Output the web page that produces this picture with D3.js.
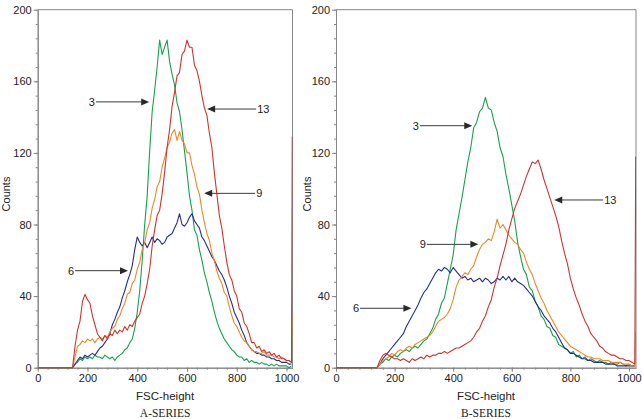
<!DOCTYPE html>
<html><head><meta charset="utf-8">
<script src="https://cdn.jsdelivr.net/npm/d3@7"></script>
<style>body{margin:0;background:#fff}svg{display:block}</style>
</head><body><svg id="c" width="642" height="419"></svg>
<script>
// ---- data: counts per FSC channel bin, bins start at 140, step 10 ----
const binStart = 140, binStep = 10, spikeChannel = 1023;
const xTicks = [0, 200, 400, 600, 800, 1000];
const yTicks = [0, 40, 80, 120, 160, 200];

const a3 = [
 0,2,3,5,4,6,5,6,5,7,
 6,6,5,7,6,5,6,4,6,7,
 8,10,11,14,16,22,31,43,60,80,
 96,121,143,155,168,183,175,179,183,171,
 164,158,148,143,133,121,109,96,88,77,
 74,66,60,53,48,42,37,31,26,22,
 19,16,14,12,10,9,7,6,6,4,
 5,3,4,3,3,2,3,2,2,1,
 2,1,2,1,1,1,1,0,1];
const a6 = [
 0,2,4,6,5,7,6,7,8,7,
 9,11,12,14,16,19,24,27,31,34,
 39,43,48,52,57,66,73,70,68,70,
 67,70,73,70,72,71,69,70,73,74,
 75,78,81,86,80,79,81,84,86,82,
 80,78,73,71,68,65,62,60,57,54,
 52,49,45,40,36,31,28,25,21,18,
 14,12,10,9,8,8,7,7,6,6,
 5,5,4,4,3,3,3,2,2];
const a9 = [
 0,6,12,13,15,14,16,15,16,14,
 16,17,16,18,17,20,22,23,27,29,
 33,36,41,42,47,49,55,59,66,70,
 77,81,89,94,101,104,112,117,123,126,
 131,133,127,132,127,125,120,120,113,108,
 101,97,88,81,75,71,64,60,54,50,
 47,42,40,34,29,25,23,20,17,15,
 14,12,10,9,9,8,8,9,7,7,
 7,6,6,5,6,5,4,4,3];
const a13 = [
 0,12,21,26,37,41,38,36,29,24,
 19,17,15,18,16,19,18,21,19,21,
 20,23,21,24,23,26,28,30,36,40,
 47,55,68,77,85,88,97,109,123,133,
 146,154,163,165,175,177,183,179,179,169,
 166,160,152,145,141,131,123,109,97,85,
 78,68,59,52,49,43,40,33,31,25,
 23,19,14,14,11,12,9,10,8,9,
 7,8,6,7,5,5,4,4,3];
const a9Spike = 30, a13Spike = 129;

const b3 = [
 0,2,3,5,4,6,7,6,8,9,
 10,9,11,12,11,13,15,16,19,22,
 27,30,36,39,47,55,63,77,86,95,
 105,115,123,134,137,143,145,151,145,144,
 137,132,123,118,108,100,91,82,70,62,
 55,52,45,43,37,34,29,27,23,22,
 18,17,13,12,11,10,8,9,6,7,
 5,6,4,5,4,3,4,3,3,2,
 3,2,2,3,2,1,2,1,1];
const b6 = [
 0,2,5,7,9,11,13,15,17,19,
 23,26,29,32,35,39,42,44,47,50,
 53,55,54,56,55,53,56,54,52,50,
 51,49,50,48,49,50,48,50,49,47,
 48,50,49,51,49,51,48,50,48,47,
 46,44,42,40,37,34,32,29,27,25,
 22,20,17,14,11,10,8,8,7,6,
 5,5,4,4,3,3,3,3,2,2,
 2,2,1,1,1,1,1,1,1];
const b9 = [
 0,2,4,5,6,8,7,9,10,9,
 11,12,11,13,14,15,16,17,18,20,
 23,26,27,28,30,33,38,45,49,51,
 53,52,55,57,62,66,69,70,72,71,
 76,83,78,80,77,74,72,70,69,66,
 64,59,55,52,47,43,39,36,32,29,
 26,23,20,18,16,14,12,11,10,9,
 8,7,6,6,5,5,5,4,4,4,
 3,3,3,3,2,2,2,1,1];
const b13 = [
 0,4,7,8,7,6,5,5,4,5,
 4,3,5,4,5,6,5,7,6,7,
 7,8,8,9,8,9,10,11,11,12,
 13,14,15,17,20,22,26,29,34,38,
 45,50,57,63,69,77,83,89,93,97,
 102,107,111,115,114,116,111,105,100,95,
 90,85,79,71,64,58,50,44,39,35,
 30,26,23,19,17,15,12,11,9,8,
 7,7,6,5,5,4,4,3,2];
const b9Spike = 20, b13Spike = 118;

// ---- layout ----
const colors = {g:"#12a34c", b:"#262c8e", o:"#f28626", r:"#d3322b"};
const yRange = [367.7, 9.7];
const panels = [
  {x0:37.7, x1:292.5, countsX:10, title:"A-SERIES",
   series:[[a3,null,colors.g],[a6,null,colors.b],[a9,a9Spike,colors.o],[a13,a13Spike,colors.r]],
   notes:[["3",234,448,148.5],["13",878,681,144.5],["9",874,669,97.4],["6",150,363,54.2]]},
  {x0:336, x1:636, countsX:311, title:"B-SERIES",
   series:[[b3,null,colors.g],[b6,null,colors.b],[b9,b9Spike,colors.o],[b13,b13Spike,colors.r]],
   notes:[["3",286,465,135.2],["13",912,745,93.7],["9",310,486,68.9],["6",82,257.5,33.2]]}
];

const svg = d3.select("#c");
const axisCol = "#858585", textCol = "#222";
const sans = "Liberation Sans, Arial, sans-serif";

function pts(vals, spike){
  const p = [[0,0]];
  vals.forEach((v,i)=>p.push([binStart+i*binStep, v]));
  if (spike != null) p.push([spikeChannel, spike]);
  return p;
}

panels.forEach(P=>{
  const x = d3.scaleLinear().domain([0,1024]).range([P.x0, P.x1]);
  const y = d3.scaleLinear().domain([0,200]).range(yRange);
  const g = svg.append("g");

  g.append("path").attr("d", `M${P.x0},${yRange[1]}H${P.x1}V${yRange[0]}`)
    .attr("fill","none").attr("stroke",axisCol).attr("stroke-width",1);

  const yMinor = d3.axisLeft(y).tickValues(d3.range(0,201,8)).tickSize(2).tickFormat("").tickSizeOuter(0);
  const xMinor = d3.axisBottom(x).tickValues(d3.range(0,1024,40)).tickSize(2).tickFormat("").tickSizeOuter(0);
  g.append("g").attr("transform",`translate(${P.x0},0)`).call(yMinor);
  g.append("g").attr("transform",`translate(0,${yRange[0]})`).call(xMinor);

  const fmt = d3.format("d");
  const yAx = d3.axisLeft(y).tickValues(yTicks).tickFormat(fmt).tickSize(4).tickPadding(2).tickSizeOuter(0);
  const xAx = d3.axisBottom(x).tickValues(xTicks).tickFormat(fmt).tickSize(4).tickPadding(3).tickSizeOuter(0);
  g.append("g").attr("class","ax").attr("transform",`translate(${P.x0},0)`).call(yAx);
  g.append("g").attr("class","ax").attr("transform",`translate(0,${yRange[0]})`).call(xAx);

  g.selectAll(".domain, .tick line").attr("stroke",axisCol);
  g.selectAll(".ax text").attr("font-family",sans).attr("font-size",11).attr("fill",textCol);

  const line = d3.line().x(d=>x(d[0])).y(d=>y(d[1]));
  const clipId = "clip"+P.title;
  svg.append("clipPath").attr("id",clipId).append("rect")
    .attr("x",P.x0).attr("y",yRange[1]).attr("width",P.x1-P.x0).attr("height",yRange[0]-yRange[1]+1);
  const cg = g.append("g").attr("clip-path",`url(#${clipId})`);
  P.series.forEach(([vals,spike,col])=>{
    cg.append("path").attr("d", line(pts(vals,spike)))
      .attr("fill","none").attr("stroke",col).attr("stroke-width",1.1)
      .attr("stroke-linejoin","round");
  });

  P.notes.forEach(([lab,c0,c1,cy])=>{
    const xs = x(c0), xt = x(c1), yy = y(cy);
    const dir = xt > xs ? 1 : -1;
    g.append("line").attr("x1",xs).attr("x2",xt-dir*7).attr("y1",yy).attr("y2",yy)
      .attr("stroke","#3a3a3a").attr("stroke-width",1);
    g.append("path").attr("d",`M${xt},${yy}L${xt-dir*8},${yy-3.5}L${xt-dir*8},${yy+3.5}Z`)
      .attr("fill","#2a2a2a");
    g.append("text").attr("x", xs - dir*1).attr("y",yy).attr("dy","0.36em")
      .attr("text-anchor", dir>0 ? "end" : "start")
      .attr("font-family",sans).attr("font-size",11).attr("fill",textCol).text(lab);
  });

  const cx = (P.x0+P.x1)/2;
  g.append("text").attr("x",cx).attr("y",400).attr("text-anchor","middle")
    .attr("font-family",sans).attr("font-size",11.5).attr("fill",textCol).text("FSC-height");
  g.append("text").attr("x",cx).attr("y",416.5).attr("text-anchor","middle")
    .attr("font-family","Liberation Serif, Times New Roman, serif").attr("font-size",11.5)
    .attr("fill",textCol).text(P.title);
  g.append("text").attr("transform",`translate(${P.countsX},194) rotate(-90)`)
    .attr("text-anchor","middle").attr("font-family",sans).attr("font-size",11)
    .attr("fill",textCol).text("Counts");
});
</script></body></html>
